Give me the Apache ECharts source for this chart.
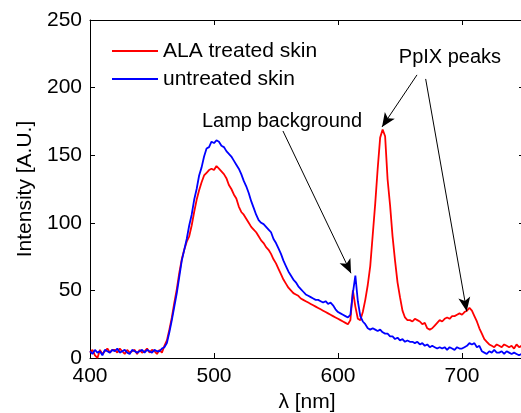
<!DOCTYPE html>
<html>
<head>
<meta charset="utf-8">
<script src="https://cdn.jsdelivr.net/npm/echarts@6/dist/echarts.min.js"></script>
<style>
  html, body { margin: 0; padding: 0; background: #fff; }
  #chart { width: 521px; height: 413px; }
</style>
</head>
<body>
<div id="chart"></div>
<script>
// wavelength grid [nm]
var wavelength = [
  400, 402, 404, 406, 408, 410, 412, 414, 416, 418,
  420, 422, 424, 426, 428, 430, 432, 434, 436, 438,
  440, 442, 444, 446, 448, 450, 452, 454, 456, 458,
  460, 462, 464, 466, 468, 470, 472, 474, 476, 478,
  480, 482, 484, 486, 488, 490, 492, 494, 496, 498,
  500, 502, 504, 506, 508, 510, 512, 514, 516, 518,
  520, 522, 524, 526, 528, 530, 532, 534, 536, 538,
  540, 542, 544, 546, 548, 550, 552, 554, 556, 558,
  560, 562, 564, 566, 568, 570, 572, 574, 576, 578,
  580, 582, 584, 586, 588, 590, 592, 594, 596, 598,
  600, 602, 604, 606, 608, 610, 612, 614, 616, 618,
  620, 622, 624, 626, 628, 630, 632, 634, 636, 638,
  640, 642, 644, 646, 648, 650, 652, 654, 656, 658,
  660, 662, 664, 666, 668, 670, 672, 674, 676, 678,
  680, 682, 684, 686, 688, 690, 692, 694, 696, 698,
  700, 702, 704, 706, 708, 710, 712, 714, 716, 718,
  720, 722, 724, 726, 728, 730, 732, 734, 736, 738,
  740, 742, 744, 746, 748, 750
];

// ALA treated skin
var ala_treated = [
  4, 6, 2, 0, 6, 3, 5, 7, 4, 6,
  6, 4, 7, 5, 3, 6, 4, 5, 6, 3,
  6, 4, 5, 7, 4, 6, 5, 3, 6, 4,
  9, 13, 21, 30, 41, 51, 63, 73, 80, 86,
  90, 98, 108, 117, 124, 130, 135, 137, 139, 140,
  139, 142, 140, 138, 136, 133, 128, 125, 121, 118,
  112, 108, 106, 103, 100, 97, 95, 93, 90, 87,
  85, 82, 80, 77, 73, 70, 66, 62, 58, 55,
  52, 50, 48, 47, 46, 44, 43, 42, 41, 40,
  39, 38, 37, 36, 35, 34, 33, 32, 31, 30,
  29, 28, 27, 26, 25, 28, 50, 38, 29, 28,
  34, 43, 54, 68, 91, 114, 140, 163, 169, 164,
  132, 113, 90, 72, 56, 45, 35, 30, 28, 28,
  27, 29, 28, 27, 25, 26, 22, 21, 22, 24,
  26, 28, 27, 29, 30, 29, 31, 31, 32, 33,
  32, 34, 35, 37, 35, 31, 27, 22, 18, 14,
  12, 10, 9, 8, 10, 9, 8, 10, 9, 8,
  9, 7, 10, 8, 9, 7
];

// untreated skin
var untreated = [
  5, 3, 6, 4, 5, 2, 6, 5, 4, 6,
  5, 7, 4, 5, 6, 4, 3, 6, 5, 4,
  5, 6, 4, 6, 5, 4, 6, 5, 5, 7,
  8, 11, 19, 28, 38, 48, 60, 72, 80, 88,
  98, 106, 117, 125, 135, 141, 149, 155, 156, 160,
  159, 161, 160, 157, 156, 153, 151, 149, 146, 143,
  140, 136, 131, 127, 122, 116, 111, 106, 102, 100,
  99, 97, 95, 93, 88, 85, 81, 77, 72, 68,
  64, 61, 58, 56, 53, 51, 49, 47, 46, 45,
  44, 43, 43, 42, 41, 42, 40, 41, 39, 36,
  34, 33, 32, 31, 30, 32, 48, 61, 42, 31,
  27, 25, 22, 21, 22, 21, 20, 21, 19, 18,
  18, 16, 16, 14, 15, 13, 14, 12, 13, 12,
  12, 11, 12, 10, 11, 9, 10, 8, 9, 8,
  7, 8, 7, 8, 6, 8, 7, 6, 8, 7,
  7, 8, 9, 11, 10, 11, 8, 9, 5, 4,
  3, 5, 4, 6, 4, 4, 5, 3, 5, 4,
  3, 4, 3, 2, 3, 2
];

// annotation arrows, [from, to] in data units
var lamp_arrow = [[555.6, 167.9], [610.5, 62.7]];
var pplx_arrow_1 = [[663.7, 209.4], [635.5, 170.9]];
var pplx_arrow_2 = [[670.7, 206.4], [703.8, 34.6]];
var lamp_text_at = [554.8, 174.6];
var pplx_text_at = [690.3, 222];

function pairs(ys) {
  return wavelength.map(function (w, i) { return [w, ys[i]]; });
}

var font = 'Liberation Sans, Arial, Helvetica, sans-serif';
var black = '#000';

var axisCommon = {
  axisLine: { show: true, onZero: false, lineStyle: { color: black, width: 1 } },
  axisTick: { show: true, inside: true, length: 5, lineStyle: { color: black, width: 1 } },
  splitLine: { show: false }
};

var chart = echarts.init(document.getElementById('chart'));
chart.setOption({
  animation: false,
  backgroundColor: '#fff',
  textStyle: { fontFamily: font },
  // the right edge of the box sits just outside the picture, like the original
  grid: { left: 90, top: 20, width: 434, height: 338, containLabel: false, outerBoundsMode: 'none' },
  legend: {
    orient: 'vertical',
    left: 112,
    top: 37,
    padding: 0,
    itemGap: 0,
    itemWidth: 46,
    itemHeight: 2,
    icon: 'rect',
    textStyle: { fontSize: 21, color: black, fontFamily: font, lineHeight: 28 },
    data: ['ALA treated skin', 'untreated skin']
  },
  xAxis: [
    Object.assign({
      type: 'value', position: 'bottom', min: 400, max: 750, interval: 100,
      name: 'λ [nm]', nameLocation: 'middle', nameGap: 32,
      nameTextStyle: { fontSize: 21, color: black, fontFamily: font },
      axisLabel: { fontSize: 21, color: black, margin: 8, fontFamily: font, showMaxLabel: false }
    }, axisCommon),
    Object.assign({
      type: 'value', position: 'top', min: 400, max: 750, interval: 100,
      axisLabel: { show: false }
    }, axisCommon)
  ],
  yAxis: [
    Object.assign({
      type: 'value', position: 'left', min: 0, max: 250, interval: 50,
      name: 'Intensity [A.U.]', nameLocation: 'middle', nameGap: 54,
      nameTextStyle: { fontSize: 21, color: black, fontFamily: font },
      axisLabel: { fontSize: 21, color: black, margin: 8, fontFamily: font }
    }, axisCommon),
    Object.assign({
      type: 'value', position: 'right', min: 0, max: 250, interval: 50,
      axisLabel: { show: false }
    }, axisCommon)
  ],
  series: [
    {
      name: 'ALA treated skin',
      type: 'line',
      xAxisIndex: 0, yAxisIndex: 0,
      data: pairs(ala_treated),
      showSymbol: false, symbol: 'none',
      lineStyle: { color: '#ff0000', width: 1.8 },
      itemStyle: { color: '#ff0000' },
      z: 2,
      markLine: {
        silent: true,
        symbol: ['none', 'arrow'],
        symbolSize: [9, 14],
        label: { show: false },
        lineStyle: { color: black, width: 1, type: 'solid' },
        data: [
          [{ coord: lamp_arrow[0] }, { coord: lamp_arrow[1] }],
          [{ coord: pplx_arrow_1[0] }, { coord: pplx_arrow_1[1] }],
          [{ coord: pplx_arrow_2[0] }, { coord: pplx_arrow_2[1] }]
        ]
      },
      markPoint: {
        silent: true,
        symbol: 'circle',
        symbolSize: 0,
        label: { show: true, position: 'inside', color: black, fontSize: 20, fontFamily: font },
        data: [
          { coord: lamp_text_at, label: { formatter: 'Lamp background' } },
          { coord: pplx_text_at, label: { formatter: 'PpIX peaks' } }
        ]
      }
    },
    {
      name: 'untreated skin',
      type: 'line',
      xAxisIndex: 0, yAxisIndex: 0,
      data: pairs(untreated),
      showSymbol: false, symbol: 'none',
      lineStyle: { color: '#0000ff', width: 1.8 },
      itemStyle: { color: '#0000ff' },
      z: 3
    }
  ]
});
</script>
</body>
</html>
